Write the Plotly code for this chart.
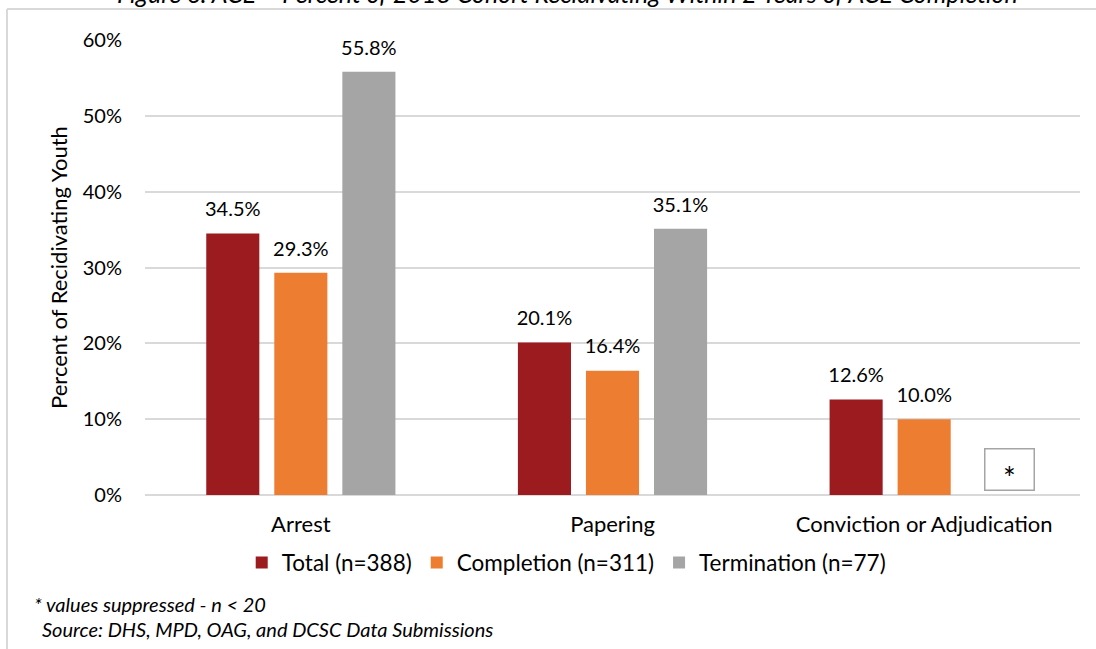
import plotly.graph_objects as go

categories = ['Arrest', 'Papering', 'Conviction or Adjudication']
total = [34.5, 20.1, 12.6]
completion = [29.3, 16.4, 10.0]
termination = [55.8, 35.1, None]
series_names = ['Total (n=388)', 'Completion (n=311)', 'Termination (n=77)']
colors = ['#9B1B1F', '#ED7D31', '#A5A5A5']
y_ticks = [0, 10, 20, 30, 40, 50, 60]

FONT = 'Lato, Carlito, Calibri, sans-serif'
GAP = 0.345

fig = go.Figure()
series = [total, completion, termination]
for i, (name, vals, col) in enumerate(zip(series_names, series, colors)):
    fig.add_trace(go.Bar(
        x=categories,
        y=vals,
        name=name,
        marker=dict(color=col, line=dict(width=0)),
        offsetgroup=str(i),
    ))

# value labels sit a little higher above the bars than plotly's own outside text
for i, vals in enumerate(series):
    fig.add_trace(go.Scatter(
        x=categories,
        y=vals,
        mode='markers+text',
        marker=dict(size=18, opacity=0),
        text=[f'{v:.1f}%' if v is not None else '' for v in vals],
        textposition='top center',
        textfont=dict(size=20, color='black', family=FONT),
        offsetgroup=str(i),
        showlegend=False,
        hoverinfo='skip',
        cliponaxis=False,
    ))

fig.update_layout(
    width=1096,
    height=649,
    barmode='group',
    bargap=GAP,
    bargroupgap=0.22,
    scattermode='group',
    scattergap=GAP,
    plot_bgcolor='white',
    paper_bgcolor='white',
    font=dict(family=FONT, size=20, color='black'),
    margin=dict(l=145, r=16, t=40, b=154),
    showlegend=True,
    legend=dict(
        orientation='h',
        x=0.4505, xanchor='center',
        y=-0.149, yanchor='middle',
        font=dict(size=22.5),
        itemwidth=30,
    ),
)

fig.update_yaxes(
    range=[0, 60],
    tickvals=y_ticks,
    ticktext=[f'{v}%' for v in y_ticks],
    showgrid=True,
    gridcolor='#D9D9D9',
    gridwidth=1.5,
    zeroline=True,
    zerolinecolor='#D9D9D9',
    zerolinewidth=1.5,
    showline=False,
    tickfont=dict(size=20),
    ticklabelstandoff=22,
    title=dict(text='Percent of Recidivating Youth', font=dict(size=22), standoff=9),
)
fig.update_xaxes(
    showline=False,
    tickfont=dict(size=22),
    ticklabelstandoff=14,
)

# suppressed value box with its asterisk
fig.add_annotation(
    x=categories[2], y=0, xref='x', yref='y',
    text=' ', showarrow=False,
    xshift=85.5, yshift=4, yanchor='bottom',
    width=46, height=38,
    bordercolor='#A5A5A5', borderwidth=1.5, bgcolor='white',
    font=dict(size=22, color='black'),
)
fig.add_annotation(
    x=categories[2], y=0, xref='x', yref='y',
    text='*', showarrow=False,
    xshift=85.5, yshift=18, yanchor='middle',
    font=dict(size=30, color='black'),
)

# partially visible figure title
fig.add_annotation(
    x=0.4524, y=1.103, xref='paper', yref='paper',
    text='<i>Figure 6: ACE \u2013 Percent of 2018 Cohort Recidivating Within 2 Years of ACE Completion</i>',
    showarrow=False, xanchor='center', yanchor='middle',
    font=dict(size=25, color='black'),
)
fig.add_annotation(
    x=-0.121, y=-0.2396, xref='paper', yref='paper',
    text='<i>* values suppressed - n < 20</i>',
    showarrow=False, xanchor='left', yanchor='middle',
    font=dict(size=20, color='black'),
)
fig.add_annotation(
    x=-0.112, y=-0.2945, xref='paper', yref='paper',
    text='<i>Source: DHS, MPD, OAG, and DCSC Data Submissions</i>',
    showarrow=False, xanchor='left', yanchor='middle',
    font=dict(size=20, color='black'),
)

# border lines of the figure frame
fig.add_shape(type='line', xref='paper', yref='paper',
              x0=-0.1476, x1=1.02, y0=1.068, y1=1.068,
              line=dict(color='#D9D9D9', width=2))
fig.add_shape(type='line', xref='paper', yref='paper',
              x0=-0.1476, x1=-0.1476, y0=1.068, y1=-0.35,
              line=dict(color='#D9D9D9', width=2))

fig.write_html('out.html', config={'displayModeBar': False},
               post_script="document.body.style.margin='0';")
